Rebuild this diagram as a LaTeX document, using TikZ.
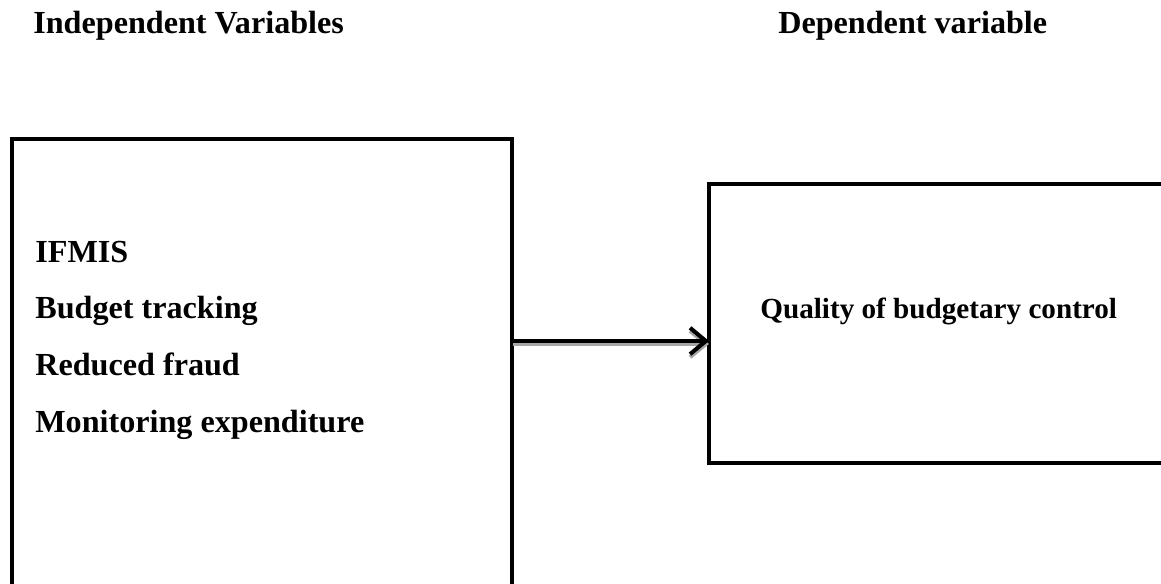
\documentclass[tikz,border=0pt]{standalone}
\usepackage{fontspec}
\setmainfont{Liberation Serif}
\usetikzlibrary{arrows.meta,positioning,calc}
\tikzset{
  % Variable box: thick black frame, text placed separately
  varbox/.style={draw, rectangle, line width=2.3pt, inner sep=0pt, outer sep=0pt, anchor=north west},
  % Bold labels
  vlabel/.style={font=\bfseries\fontsize{18.3}{22}\selectfont, inner sep=0pt, anchor=base west},
  vlabel-small/.style={vlabel, font=\bfseries\fontsize{16.6}{20}\selectfont},
  % Arrow with grey drop shadow
  linkarr/.style={-{Straight Barb[length=9pt,width=15pt,line width=2.3pt]}, line width=2.3pt},
  linkshadow/.style={linkarr, draw=black!35}
}
\begin{document}
\begin{tikzpicture}[x=0.02cm, y=-0.02cm]
\useasboundingbox (0,0) rectangle (1161,584);
\clip (0,0) rectangle (1161,584);

% Headings
\node[vlabel] (ivhead) at (33,34) {Independent Variables};
\node[vlabel] (dvhead) at (778,34) {Dependent variable};

% Boxes (both run past the page edge)
\node[varbox, minimum width=10cm, minimum height=11cm] (ivbox) at (12,139) {};
\node[varbox, minimum width=10cm, minimum height=5.58cm] (dvbox) at (709,184) {};

% Independent variables
\node[vlabel] (ifmis) at (35,263) {IFMIS};
\node[vlabel] (track) at (35,319) {Budget tracking};
\node[vlabel] (fraud) at (35,376) {Reduced fraud};
\node[vlabel] (monit) at (35,433) {Monitoring expenditure};

% Dependent variable
\node[vlabel-small] (quality) at (760,319) {Quality of budgetary control};

% Link
\coordinate (mid) at (600,341);
\draw[linkshadow] ($(ivbox.east |- mid)+(1,3)$) -- ($(dvbox.west |- mid)+(0,3)$);
\draw[linkarr] (ivbox.east |- mid) -- (dvbox.west |- mid);

\end{tikzpicture}
\end{document}
